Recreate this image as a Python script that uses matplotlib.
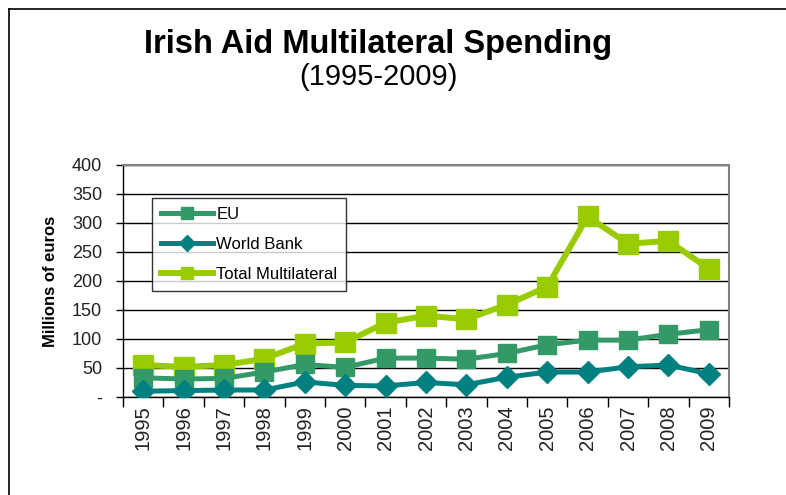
import matplotlib
matplotlib.use("Agg")
import matplotlib.pyplot as plt
from matplotlib.lines import Line2D
import numpy as np

years = ["1995", "1996", "1997", "1998", "1999", "2000", "2001", "2002",
         "2003", "2004", "2005", "2006", "2007", "2008", "2009"]
eu = [33, 31, 32, 43, 56, 51, 67, 67, 65, 75, 90, 98, 98, 108, 116]
world_bank = [10, 11, 12, 12, 26, 20, 19, 25, 21, 34, 43, 43, 52, 55, 40]
total = [55, 52, 55, 66, 92, 94, 128, 140, 134, 159, 190, 311, 264, 269, 221]
yticks = [0, 50, 100, 150, 200, 250, 300, 350, 400]
ytick_labels = ["-", "50", "100", "150", "200", "250", "300", "350", "400"]

plt.rcParams['font.family'] = ['Liberation Sans', 'DejaVu Sans']

fig = plt.figure(figsize=(7.86, 4.95), dpi=100)
ax = fig.add_axes([0.1565, 0.198, 0.771, 0.469])

x = np.arange(len(years))
c_eu = "#339966"
c_wb = "#008080"
c_tot = "#99CC00"

ax.plot(x, eu, color=c_eu, lw=3.6, marker="s", ms=13.5, mec=c_eu, label="EU", zorder=4)
ax.plot(x, world_bank, color=c_wb, lw=3.6, marker="D", ms=11, mec=c_wb, label="World Bank", zorder=5)
ax.plot(x, total, color=c_tot, lw=4.3, marker="s", ms=15, mec=c_tot, label="Total Multilateral", zorder=3)

ax.set_xlim(-0.5, len(years) - 0.5)
ax.set_ylim(0, 400)
ax.set_yticks(yticks)
ax.set_yticklabels(ytick_labels, fontsize=13, color="#222222")
ax.yaxis.grid(True, color="black", lw=1.0)
ax.set_axisbelow(True)

ax.set_xticks(np.arange(-0.5, len(years), 1.0))
ax.set_xticklabels([])
ax.set_xticks(x, minor=True)
ax.set_xticklabels(years, minor=True, rotation=90, fontsize=14.5, color="#222222")
ax.tick_params(axis="x", which="major", direction="out", length=7, width=1, color="black")
ax.tick_params(axis="x", which="minor", length=0, pad=6)
ax.tick_params(axis="y", direction="out", length=5, width=1, pad=10)

for s in ["top", "right"]:
    ax.spines[s].set_color("#808080")
    ax.spines[s].set_linewidth(1.5)
for s in ["left", "bottom"]:
    ax.spines[s].set_color("black")
    ax.spines[s].set_linewidth(1.0)

ax.set_ylabel("Millions of euros", fontsize=12, fontweight="bold", labelpad=10)

leg = ax.legend(loc="upper left", bbox_to_anchor=(0.1934, 0.6), bbox_transform=fig.transFigure,
                frameon=True, fancybox=False, edgecolor="black", fontsize=12,
                handlelength=3.1, handletextpad=0.2, labelspacing=0.9, borderpad=0.55,
                borderaxespad=0)
leg.get_frame().set_linewidth(1.0)
for h in leg.legend_handles:
    h.set_markersize(8)

fig.text(378 / 786, 1 - 45 / 495, "Irish Aid Multilateral Spending", ha="center", va="center",
         fontsize=23.5, fontweight="bold")
fig.text(378 / 786, 1 - 77 / 495, "(1995-2009)", ha="center", va="center", fontsize=21)

# outer frame lines (left and top)
fig.add_artist(Line2D([9 / 786, 9 / 786], [0, 1 - 9 / 495], transform=fig.transFigure,
                      color="black", lw=1.2))
fig.add_artist(Line2D([9 / 786, 1], [1 - 9 / 495, 1 - 9 / 495], transform=fig.transFigure,
                      color="black", lw=1.2))

fig.savefig("out.png", dpi=100)
